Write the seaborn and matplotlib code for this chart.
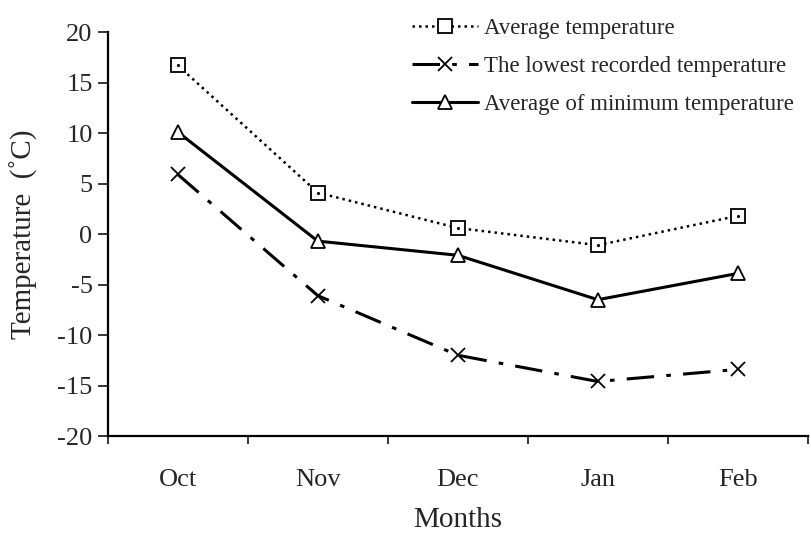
import pandas as pd
import seaborn as sns
import matplotlib.pyplot as plt

months = ['Oct', 'Nov', 'Dec', 'Jan', 'Feb']
avg_temp = [16.7, 4.1, 0.6, -1.1, 1.8]
lowest_temp = [5.9, -6.1, -12.0, -14.6, -13.4]
avg_min_temp = [10.1, -0.7, -2.1, -6.5, -3.9]

df = pd.DataFrame({'pos': range(len(months)), 'month': months,
                   'avg': avg_temp, 'low': lowest_temp, 'amin': avg_min_temp})

sns.set_style("ticks")
plt.rcParams['font.family'] = ['Liberation Serif', 'DejaVu Serif']
plt.rcParams['axes.unicode_minus'] = False

fig = plt.figure(figsize=(8.11, 5.35), dpi=100)
ax = fig.add_axes([0.133, 0.185, 0.863, 0.755])

sns.lineplot(data=df, x='pos', y='avg', ax=ax, color='black', lw=1.8,
             linestyle=(0, (1, 1.6)), marker='s', markersize=9.5, markerfacecolor='white',
             markeredgecolor='black', markeredgewidth=1.3, label='Average temperature')
ax.plot(df['pos'], df['avg'], ls='none', marker='.', ms=2.5, color='black')
sns.lineplot(data=df, x='pos', y='low', ax=ax, color='black', lw=2.2,
             linestyle=(0, (9, 4, 1.5, 4)), marker='x', markersize=9.5,
             markeredgecolor='black', markeredgewidth=1.3,
             label='The lowest recorded temperature')
sns.lineplot(data=df, x='pos', y='amin', ax=ax, color='black', lw=2.2,
             marker='^', markersize=9.5, markerfacecolor='white', markeredgecolor='black',
             markeredgewidth=1.3, label='Average of minimum temperature')

ax.set_xlim(-0.5, 4.5)
ax.set_ylim(-20, 20)
ax.set_yticks(range(-20, 21, 5))
ax.set_xticks([i - 0.5 for i in range(6)])
ax.set_xticklabels([])
ax.set_xticks(range(5), minor=True)
ax.set_xticklabels(months, minor=True)
ax.tick_params(axis='x', which='minor', length=0, pad=24, labelsize=19)
ax.tick_params(axis='x', which='major', length=6, width=1.3, direction='out')
ax.tick_params(axis='y', length=7, width=1.3, direction='out', labelsize=19, pad=4)
for s in ['top', 'right']:
    ax.spines[s].set_visible(False)
for s in ['left', 'bottom']:
    ax.spines[s].set_linewidth(1.6)
    ax.spines[s].set_color('black')

ax.set_xlabel('Months', fontsize=21, labelpad=11)
ax.set_ylabel('Temperature  (˚C)', fontsize=21, labelpad=14)

ax.legend(loc='upper left', bbox_to_anchor=(0.421, 1.058), frameon=False, fontsize=16.5,
          handlelength=2.9, handletextpad=0.25, labelspacing=0.75, borderaxespad=0)

fig.savefig('out.png', dpi=100)
